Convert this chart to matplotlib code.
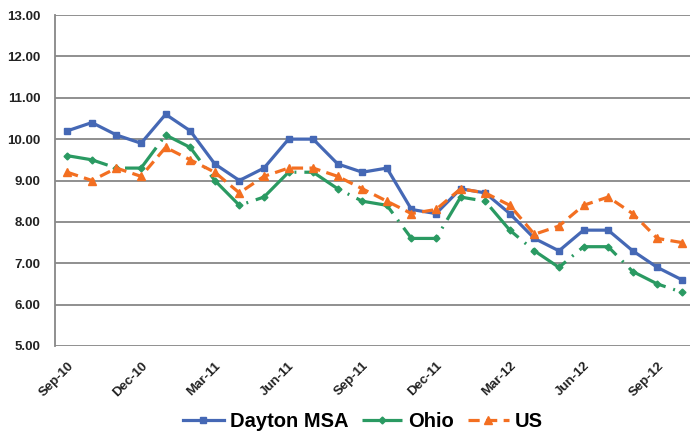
import matplotlib
matplotlib.use("Agg")
import matplotlib.pyplot as plt
from matplotlib.ticker import FormatStrFormatter

months = ["Sep-10", "Oct-10", "Nov-10", "Dec-10", "Jan-11", "Feb-11", "Mar-11", "Apr-11",
          "May-11", "Jun-11", "Jul-11", "Aug-11", "Sep-11", "Oct-11", "Nov-11", "Dec-11",
          "Jan-12", "Feb-12", "Mar-12", "Apr-12", "May-12", "Jun-12", "Jul-12", "Aug-12",
          "Sep-12", "Oct-12"]
dayton = [10.2, 10.4, 10.1, 9.9, 10.6, 10.2, 9.4, 9.0, 9.3, 10.0, 10.0, 9.4, 9.2, 9.3,
          8.3, 8.2, 8.8, 8.7, 8.2, 7.6, 7.3, 7.8, 7.8, 7.3, 6.9, 6.6]
ohio = [9.6, 9.5, 9.3, 9.3, 10.1, 9.8, 9.0, 8.4, 8.6, 9.2, 9.2, 8.8, 8.5, 8.4,
        7.6, 7.6, 8.6, 8.5, 7.8, 7.3, 6.9, 7.4, 7.4, 6.8, 6.5, 6.3]
us = [9.2, 9.0, 9.3, 9.1, 9.8, 9.5, 9.2, 8.7, 9.1, 9.3, 9.3, 9.1, 8.8, 8.5,
      8.2, 8.3, 8.8, 8.7, 8.4, 7.7, 7.9, 8.4, 8.6, 8.2, 7.6, 7.5]
series_names = ["Dayton MSA", "Ohio", "US"]

plt.rcParams['font.family'] = ['Liberation Sans', 'DejaVu Sans']

fig = plt.figure(figsize=(6.9, 4.32), dpi=100)
ax = fig.add_axes([55/690, 86/432, 635/690, 331/432])

x = list(range(len(months)))
blue = '#4568B5'
green = '#2A9A62'
orange = '#F36F21'

ax.plot(x, dayton, color=blue, lw=2.3, marker='s', ms=5, label=series_names[0], zorder=3)
ax.plot(x, ohio, color=green, lw=2.3, marker='D', ms=3.5, label=series_names[1], zorder=3,
        linestyle=(0, (13, 2.5, 0.6, 2.5)))
ax.plot(x, us, color=orange, lw=2.3, marker='^', ms=6, label=series_names[2], zorder=3,
        linestyle=(0, (3.5, 2)))

ax.set_ylim(5, 13)
ax.set_xlim(-0.5, 25.33)
ax.set_yticks([5, 6, 7, 8, 9, 10, 11, 12, 13])
ax.yaxis.set_major_formatter(FormatStrFormatter('%.2f'))
ticks = x[::3]
ax.set_xticks(ticks)
ax.set_xticklabels([months[i] for i in ticks], rotation=45, ha='right',
                   rotation_mode='anchor')
for lab in ax.get_xticklabels() + ax.get_yticklabels():
    lab.set_fontweight('bold')
    lab.set_fontsize(9.5)
    lab.set_color('#222222')
ax.tick_params(axis='both', length=0)
ax.tick_params(axis='y', pad=10.5)
ax.tick_params(axis='x', pad=10)

ax.grid(axis='y', color='#878787', lw=1.3)
ax.set_axisbelow(True)
for s in ['top', 'right', 'bottom']:
    ax.spines[s].set_visible(False)
ax.spines['left'].set_color('#878787')
ax.spines['left'].set_linewidth(1.3)

leg = fig.legend(loc='center', bbox_to_anchor=(0.526, 0.025), ncol=3, frameon=False,
                 prop={'weight': 'bold', 'size': 14.5}, handlelength=2.0,
                 handletextpad=0.3, columnspacing=0.7, borderaxespad=0)

fig.savefig('out.png', dpi=100)
